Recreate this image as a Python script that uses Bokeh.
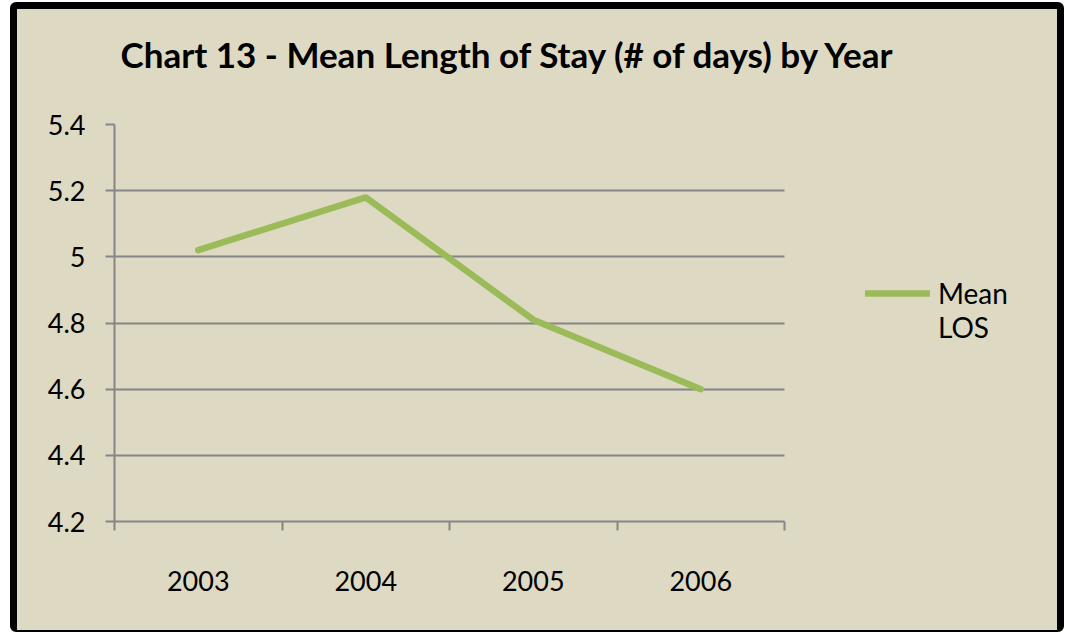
from bokeh.plotting import figure
from bokeh.models import Range1d, FixedTicker, Legend, LegendItem
from bokeh.embed import file_html
from bokeh.resources import INLINE

# ---- data ----
years = ["2003", "2004", "2005", "2006"]
mean_los = [5.02, 5.18, 4.81, 4.60]
series_name = "Mean LOS"
y_ticks = [4.2, 4.4, 4.6, 4.8, 5.0, 5.2, 5.4]
y_tick_labels = ["4.2", "4.4", "4.6", "4.8", "5", "5.2", "5.4"]
title_text = "Chart 13 - Mean Length of Stay (# of days) by Year"

BG = "#DDD9C3"
GRID = "#868686"
GREEN = "#9BBB59"
FONT = "Lato"

x_pos = list(range(len(years)))
boundaries = [i - 0.5 for i in x_pos] + [x_pos[-1] + 0.5]

# layout: the frame runs to the right edge so the legend is not clipped;
# the axis and grid are bounded to the category area (670 px wide)
FRAME_W = 943
PLOT_W = 670
x_end = boundaries[0] + (boundaries[-1] - boundaries[0]) * FRAME_W / PLOT_W

p = figure(width=1054, height=630, output_backend="svg", toolbar_location=None,
           x_range=Range1d(boundaries[0], x_end),
           y_range=Range1d(y_ticks[0], y_ticks[-1]),
           min_border_left=97, min_border_right=14,
           min_border_top=115, min_border_bottom=118,
           background_fill_color=None, border_fill_color=None)
p.styles = {"border": "7px solid black", "border-bottom-width": "2px",
            "margin-left": "10px", "margin-top": "2px", "border-radius": "6px",
            "background-color": BG}
p.outline_line_color = None

# title (an empty second line lifts the text away from the frame)
p.title.text = title_text + "\n"
p.title.text_font = FONT
p.title.text_font_style = "bold"
p.title.text_font_size = "35px"
p.title.text_color = "black"
p.title.align = "left"
p.title.offset = 6
p.title.standoff = 16

# x axis
p.xaxis.bounds = (boundaries[0], boundaries[-1])
p.xaxis.ticker = FixedTicker(ticks=x_pos, minor_ticks=boundaries)
p.xaxis.major_label_overrides = {i: y for i, y in zip(x_pos, years)}
p.xaxis.major_tick_out = 0
p.xaxis.major_tick_in = 0
p.xaxis.minor_tick_out = 9
p.xaxis.minor_tick_in = 0
p.xaxis.minor_tick_line_color = GRID
p.xaxis.minor_tick_line_width = 2
p.xaxis.major_label_standoff = 40

# y axis
p.yaxis.ticker = FixedTicker(ticks=y_ticks)
p.yaxis.major_label_overrides = {t: l for t, l in zip(y_ticks, y_tick_labels)}
p.yaxis.major_tick_out = 9
p.yaxis.major_tick_in = 0
p.yaxis.minor_tick_out = 0
p.yaxis.minor_tick_in = 0
p.yaxis.major_label_standoff = 20

for ax in (p.xaxis, p.yaxis):
    ax.axis_line_color = GRID
    ax.axis_line_width = 2
    ax.major_tick_line_color = GRID
    ax.major_tick_line_width = 2
    ax.major_label_text_font = FONT
    ax.major_label_text_font_size = "27px"
    ax.major_label_text_color = "black"

p.xgrid.visible = False
p.ygrid.grid_line_color = GRID
p.ygrid.grid_line_width = 2
p.ygrid.ticker = FixedTicker(ticks=y_ticks)
p.ygrid.cross_bounds = (boundaries[0], boundaries[-1])

r = p.line(x_pos, mean_los, line_color=GREEN, line_width=6.5, line_cap="round")

# legend: the glyph sits beside the first word, the second word wraps below
legend_label = "\n" + "\n".join(series_name.split())
legend = Legend(items=[LegendItem(label=legend_label, renderers=[r])],
                location=(751, 177), padding=0, margin=0,
                border_line_color=None, background_fill_alpha=0,
                glyph_width=65, glyph_height=30, label_standoff=8,
                label_text_font=FONT, label_text_font_size="28px",
                label_text_line_height=1.39,
                label_text_color="black", label_height=30)
p.add_layout(legend)

open("out.html", "w").write(file_html(p, INLINE))
